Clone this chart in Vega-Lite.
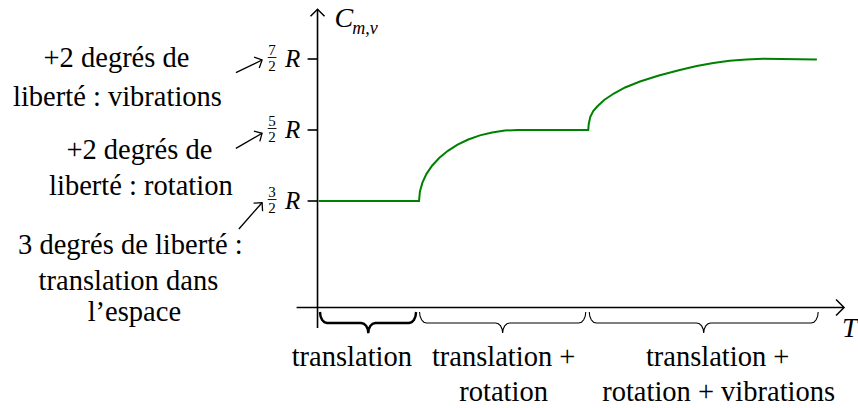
{
  "$schema": "https://vega.github.io/schema/vega-lite/v6.json",
  "width": 858,
  "height": 408,
  "padding": 0,
  "autosize": {"type": "fit", "contains": "padding"},
  "background": "white",
  "config": {"view": {"stroke": null}},
  "datasets": {
    "curve": [
      {"x": 0.01, "y": 1.5}, {"x": 1.02, "y": 1.5}, {"x": 1.0285, "y": 1.631}, {"x": 1.054, "y": 1.759},
      {"x": 1.095, "y": 1.883}, {"x": 1.153, "y": 2.0}, {"x": 1.225, "y": 2.108}, {"x": 1.31, "y": 2.207},
      {"x": 1.407, "y": 2.293}, {"x": 1.515, "y": 2.366}, {"x": 1.631, "y": 2.424}, {"x": 1.754, "y": 2.466},
      {"x": 1.881, "y": 2.492}, {"x": 2.01, "y": 2.5},
      {"x": 2.72, "y": 2.5}, {"x": 2.725, "y": 2.585}, {"x": 2.74, "y": 2.683}, {"x": 2.77, "y": 2.768},
      {"x": 2.81, "y": 2.831}, {"x": 2.88, "y": 2.923}, {"x": 2.977, "y": 3.014}, {"x": 3.09, "y": 3.099},
      {"x": 3.24, "y": 3.183}, {"x": 3.43, "y": 3.268}, {"x": 3.64, "y": 3.345}, {"x": 3.81, "y": 3.401},
      {"x": 3.977, "y": 3.444}, {"x": 4.14, "y": 3.475}, {"x": 4.31, "y": 3.493}, {"x": 4.477, "y": 3.503},
      {"x": 5.017, "y": 3.493}
    ],
    "axes": [
      {"x": 0, "y": -0.289, "x2": 0, "y2": 4.2},
      {"x": -0.21, "y": 0, "x2": 5.29, "y2": 0}
    ],
    "ticks": [
      {"v": 1.5, "n": "3", "d": "2"},
      {"v": 2.5, "n": "5", "d": "2"},
      {"v": 3.5, "n": "7", "d": "2"}
    ],
    "arrows": [
      {"id": 1, "x": -0.82, "y": 3.307, "x2": -0.557, "y2": 3.486},
      {"id": 2, "x": -0.82, "y": 2.242, "x2": -0.557, "y2": 2.454},
      {"id": 3, "x": -0.79, "y": 1.106, "x2": -0.557, "y2": 1.476}
    ],
    "labels": [
      {"t": "+2 degrés de", "x": -2.02, "y": 3.383},
      {"t": "liberté : vibrations", "x": -2.01, "y": 2.838},
      {"t": "+2 degrés de", "x": -1.79, "y": 2.087},
      {"t": "liberté : rotation", "x": -1.775, "y": 1.585},
      {"t": "3 degrés de liberté :", "x": -1.88, "y": 0.754},
      {"t": "translation dans", "x": -1.9, "y": 0.246},
      {"t": "l’espace", "x": -1.84, "y": -0.19},
      {"t": "translation", "x": 0.345, "y": -0.824},
      {"t": "translation +", "x": 1.87, "y": -0.824},
      {"t": "rotation", "x": 1.87, "y": -1.317},
      {"t": "translation +", "x": 4.02, "y": -0.824},
      {"t": "rotation + vibrations", "x": 4.03, "y": -1.317}
    ],
    "bigitalic": [
      {"t": "C", "x": 0.17, "y": 3.951},
      {"t": "T", "x": 5.27, "y": -0.415}
    ],
    "subitalic": [
      {"t": "m,v", "x": 0.35, "y": 3.852}
    ],
    "braces": [
      {"b": 1, "i": 0, "x": 0.025, "y": -0.0634}, {"b": 1, "i": 1, "x": 0.0303, "y": -0.1225}, {"b": 1, "i": 2, "x": 0.0455, "y": -0.1732},
      {"b": 1, "i": 3, "x": 0.0682, "y": -0.207}, {"b": 1, "i": 4, "x": 0.095, "y": -0.2183}, {"b": 1, "i": 5, "x": 0.44, "y": -0.2183},
      {"b": 1, "i": 6, "x": 0.4668, "y": -0.2296}, {"b": 1, "i": 7, "x": 0.4895, "y": -0.2592}, {"b": 1, "i": 8, "x": 0.5047, "y": -0.3056},
      {"b": 1, "i": 9, "x": 0.51, "y": -0.3592}, {"b": 1, "i": 10, "x": 0.5153, "y": -0.3056}, {"b": 1, "i": 11, "x": 0.5305, "y": -0.2592},
      {"b": 1, "i": 12, "x": 0.5532, "y": -0.2296}, {"b": 1, "i": 13, "x": 0.58, "y": -0.2183}, {"b": 1, "i": 14, "x": 0.92, "y": -0.2183},
      {"b": 1, "i": 15, "x": 0.9468, "y": -0.207}, {"b": 1, "i": 16, "x": 0.9695, "y": -0.1732}, {"b": 1, "i": 17, "x": 0.9847, "y": -0.1225},
      {"b": 1, "i": 18, "x": 0.99, "y": -0.0634},
      {"b": 2, "i": 0, "x": 1.025, "y": -0.0634}, {"b": 2, "i": 1, "x": 1.0303, "y": -0.1225}, {"b": 2, "i": 2, "x": 1.0455, "y": -0.1732},
      {"b": 2, "i": 3, "x": 1.0682, "y": -0.207}, {"b": 2, "i": 4, "x": 1.095, "y": -0.2183}, {"b": 2, "i": 5, "x": 1.79, "y": -0.2183},
      {"b": 2, "i": 6, "x": 1.8168, "y": -0.2296}, {"b": 2, "i": 7, "x": 1.8395, "y": -0.2592}, {"b": 2, "i": 8, "x": 1.8547, "y": -0.3056},
      {"b": 2, "i": 9, "x": 1.86, "y": -0.3592}, {"b": 2, "i": 10, "x": 1.8653, "y": -0.3056}, {"b": 2, "i": 11, "x": 1.8805, "y": -0.2592},
      {"b": 2, "i": 12, "x": 1.9032, "y": -0.2296}, {"b": 2, "i": 13, "x": 1.93, "y": -0.2183}, {"b": 2, "i": 14, "x": 2.625, "y": -0.2183},
      {"b": 2, "i": 15, "x": 2.6518, "y": -0.207}, {"b": 2, "i": 16, "x": 2.6745, "y": -0.1732}, {"b": 2, "i": 17, "x": 2.6897, "y": -0.1225},
      {"b": 2, "i": 18, "x": 2.695, "y": -0.0634},
      {"b": 3, "i": 0, "x": 2.73, "y": -0.0634}, {"b": 3, "i": 1, "x": 2.7353, "y": -0.1225}, {"b": 3, "i": 2, "x": 2.7505, "y": -0.1732},
      {"b": 3, "i": 3, "x": 2.7732, "y": -0.207}, {"b": 3, "i": 4, "x": 2.8, "y": -0.2183}, {"b": 3, "i": 5, "x": 3.81, "y": -0.2183},
      {"b": 3, "i": 6, "x": 3.8368, "y": -0.2296}, {"b": 3, "i": 7, "x": 3.8595, "y": -0.2592}, {"b": 3, "i": 8, "x": 3.8747, "y": -0.3056},
      {"b": 3, "i": 9, "x": 3.88, "y": -0.3592}, {"b": 3, "i": 10, "x": 3.8853, "y": -0.3056}, {"b": 3, "i": 11, "x": 3.9005, "y": -0.2592},
      {"b": 3, "i": 12, "x": 3.9232, "y": -0.2296}, {"b": 3, "i": 13, "x": 3.95, "y": -0.2183}, {"b": 3, "i": 14, "x": 4.96, "y": -0.2183},
      {"b": 3, "i": 15, "x": 4.9868, "y": -0.207}, {"b": 3, "i": 16, "x": 5.0095, "y": -0.1732}, {"b": 3, "i": 17, "x": 5.0247, "y": -0.1225},
      {"b": 3, "i": 18, "x": 5.03, "y": -0.0634}
    ]
  },
  "layer": [
    {
      "data": {"name": "axes"},
      "mark": {"type": "rule", "color": "black", "strokeWidth": 1.6},
      "encoding": {
        "x": {"field": "x", "type": "quantitative", "scale": {"domain": [-3.19, 5.39], "nice": false, "zero": false}, "axis": null},
        "y": {"field": "y", "type": "quantitative", "scale": {"domain": [-1.4155, 4.331], "nice": false, "zero": false}, "axis": null},
        "x2": {"field": "x2"},
        "y2": {"field": "y2"}
      }
    },
    {
      "data": {"name": "ticks"},
      "mark": {"type": "rule", "color": "black", "strokeWidth": 1.6},
      "encoding": {
        "x": {"datum": -0.1, "type": "quantitative", "scale": {"domain": [-3.19, 5.39], "nice": false, "zero": false}, "axis": null},
        "x2": {"datum": 0},
        "y": {"field": "v", "type": "quantitative", "scale": {"domain": [-1.4155, 4.331], "nice": false, "zero": false}, "axis": null}
      }
    },
    {
      "data": {"values": [{"x": 0, "y": 4.2}]},
      "mark": {"type": "point", "shape": "M-1,-1L0,0L-1,1", "filled": false, "stroke": "black", "strokeWidth": 1.5, "size": 196, "angle": -90, "opacity": 1},
      "encoding": {
        "x": {"field": "x", "type": "quantitative", "scale": {"domain": [-3.19, 5.39], "nice": false, "zero": false}, "axis": null},
        "y": {"field": "y", "type": "quantitative", "scale": {"domain": [-1.4155, 4.331], "nice": false, "zero": false}, "axis": null}
      }
    },
    {
      "data": {"values": [{"x": 5.29, "y": 0}]},
      "mark": {"type": "point", "shape": "M-1,-1L0,0L-1,1", "filled": false, "stroke": "black", "strokeWidth": 1.5, "size": 256, "opacity": 1},
      "encoding": {
        "x": {"field": "x", "type": "quantitative", "scale": {"domain": [-3.19, 5.39], "nice": false, "zero": false}, "axis": null},
        "y": {"field": "y", "type": "quantitative", "scale": {"domain": [-1.4155, 4.331], "nice": false, "zero": false}, "axis": null}
      }
    },
    {
      "data": {"name": "arrows"},
      "mark": {"type": "rule", "color": "black", "strokeWidth": 1.3},
      "encoding": {
        "x": {"field": "x", "type": "quantitative", "scale": {"domain": [-3.19, 5.39], "nice": false, "zero": false}, "axis": null},
        "y": {"field": "y", "type": "quantitative", "scale": {"domain": [-1.4155, 4.331], "nice": false, "zero": false}, "axis": null},
        "x2": {"field": "x2"},
        "y2": {"field": "y2"}
      }
    },
    {
      "data": {"name": "arrows"},
      "transform": [{"filter": "datum.id == 1"}],
      "mark": {"type": "point", "shape": "M-1,-1L0,0L-1,1", "filled": false, "stroke": "black", "strokeWidth": 1.3, "size": 144, "angle": -25.8, "opacity": 1},
      "encoding": {
        "x": {"field": "x2", "type": "quantitative", "scale": {"domain": [-3.19, 5.39], "nice": false, "zero": false}, "axis": null},
        "y": {"field": "y2", "type": "quantitative", "scale": {"domain": [-1.4155, 4.331], "nice": false, "zero": false}, "axis": null}
      }
    },
    {
      "data": {"name": "arrows"},
      "transform": [{"filter": "datum.id == 2"}],
      "mark": {"type": "point", "shape": "M-1,-1L0,0L-1,1", "filled": false, "stroke": "black", "strokeWidth": 1.3, "size": 144, "angle": -29.7, "opacity": 1},
      "encoding": {
        "x": {"field": "x2", "type": "quantitative", "scale": {"domain": [-3.19, 5.39], "nice": false, "zero": false}, "axis": null},
        "y": {"field": "y2", "type": "quantitative", "scale": {"domain": [-1.4155, 4.331], "nice": false, "zero": false}, "axis": null}
      }
    },
    {
      "data": {"name": "arrows"},
      "transform": [{"filter": "datum.id == 3"}],
      "mark": {"type": "point", "shape": "M-1,-1L0,0L-1,1", "filled": false, "stroke": "black", "strokeWidth": 1.3, "size": 144, "angle": -48.5, "opacity": 1},
      "encoding": {
        "x": {"field": "x2", "type": "quantitative", "scale": {"domain": [-3.19, 5.39], "nice": false, "zero": false}, "axis": null},
        "y": {"field": "y2", "type": "quantitative", "scale": {"domain": [-1.4155, 4.331], "nice": false, "zero": false}, "axis": null}
      }
    },
    {
      "data": {"name": "curve"},
      "mark": {"type": "line", "color": "#008000", "strokeWidth": 2, "interpolate": "linear"},
      "encoding": {
        "x": {"field": "x", "type": "quantitative", "scale": {"domain": [-3.19, 5.39], "nice": false, "zero": false}, "axis": null},
        "y": {"field": "y", "type": "quantitative", "scale": {"domain": [-1.4155, 4.331], "nice": false, "zero": false}, "axis": null}
      }
    },
    {
      "data": {"name": "braces"},
      "transform": [{"filter": "datum.b == 1"}],
      "mark": {"type": "line", "color": "black", "strokeWidth": 2.4, "interpolate": "linear"},
      "encoding": {
        "x": {"field": "x", "type": "quantitative", "scale": {"domain": [-3.19, 5.39], "nice": false, "zero": false}, "axis": null},
        "y": {"field": "y", "type": "quantitative", "scale": {"domain": [-1.4155, 4.331], "nice": false, "zero": false}, "axis": null},
        "order": {"field": "i", "type": "quantitative"}
      }
    },
    {
      "data": {"name": "braces"},
      "transform": [{"filter": "datum.b != 1"}],
      "mark": {"type": "line", "color": "black", "strokeWidth": 1.1, "interpolate": "linear"},
      "encoding": {
        "x": {"field": "x", "type": "quantitative", "scale": {"domain": [-3.19, 5.39], "nice": false, "zero": false}, "axis": null},
        "y": {"field": "y", "type": "quantitative", "scale": {"domain": [-1.4155, 4.331], "nice": false, "zero": false}, "axis": null},
        "detail": {"field": "b", "type": "nominal"},
        "order": {"field": "i", "type": "quantitative"}
      }
    },
    {
      "data": {"name": "labels"},
      "mark": {"type": "text", "font": "Liberation Serif", "fontSize": 28.5, "align": "center", "baseline": "alphabetic", "color": "black"},
      "encoding": {
        "x": {"field": "x", "type": "quantitative", "scale": {"domain": [-3.19, 5.39], "nice": false, "zero": false}, "axis": null},
        "y": {"field": "y", "type": "quantitative", "scale": {"domain": [-1.4155, 4.331], "nice": false, "zero": false}, "axis": null},
        "text": {"field": "t"}
      }
    },
    {
      "data": {"name": "bigitalic"},
      "mark": {"type": "text", "font": "Liberation Serif", "fontStyle": "italic", "fontSize": 28, "align": "left", "baseline": "alphabetic", "color": "black"},
      "encoding": {
        "x": {"field": "x", "type": "quantitative", "scale": {"domain": [-3.19, 5.39], "nice": false, "zero": false}, "axis": null},
        "y": {"field": "y", "type": "quantitative", "scale": {"domain": [-1.4155, 4.331], "nice": false, "zero": false}, "axis": null},
        "text": {"field": "t"}
      }
    },
    {
      "data": {"name": "subitalic"},
      "mark": {"type": "text", "font": "Liberation Serif", "fontStyle": "italic", "fontSize": 18, "align": "left", "baseline": "alphabetic", "color": "black"},
      "encoding": {
        "x": {"field": "x", "type": "quantitative", "scale": {"domain": [-3.19, 5.39], "nice": false, "zero": false}, "axis": null},
        "y": {"field": "y", "type": "quantitative", "scale": {"domain": [-1.4155, 4.331], "nice": false, "zero": false}, "axis": null},
        "text": {"field": "t"}
      }
    },
    {
      "data": {"name": "ticks"},
      "mark": {"type": "text", "font": "Liberation Serif", "fontStyle": "italic", "fontSize": 25, "align": "center", "baseline": "alphabetic", "dy": 8, "color": "black", "text": "R"},
      "encoding": {
        "x": {"datum": -0.25, "type": "quantitative", "scale": {"domain": [-3.19, 5.39], "nice": false, "zero": false}, "axis": null},
        "y": {"field": "v", "type": "quantitative", "scale": {"domain": [-1.4155, 4.331], "nice": false, "zero": false}, "axis": null}
      }
    },
    {
      "data": {"name": "ticks"},
      "mark": {"type": "text", "font": "Liberation Serif", "fontSize": 15, "align": "center", "baseline": "alphabetic", "dy": -4, "color": "black"},
      "encoding": {
        "x": {"datum": -0.457, "type": "quantitative", "scale": {"domain": [-3.19, 5.39], "nice": false, "zero": false}, "axis": null},
        "y": {"field": "v", "type": "quantitative", "scale": {"domain": [-1.4155, 4.331], "nice": false, "zero": false}, "axis": null},
        "text": {"field": "n"}
      }
    },
    {
      "data": {"name": "ticks"},
      "mark": {"type": "text", "font": "Liberation Serif", "fontSize": 15, "align": "center", "baseline": "alphabetic", "dy": 11.5, "color": "black"},
      "encoding": {
        "x": {"datum": -0.457, "type": "quantitative", "scale": {"domain": [-3.19, 5.39], "nice": false, "zero": false}, "axis": null},
        "y": {"field": "v", "type": "quantitative", "scale": {"domain": [-1.4155, 4.331], "nice": false, "zero": false}, "axis": null},
        "text": {"field": "d"}
      }
    },
    {
      "data": {"name": "ticks"},
      "mark": {"type": "rule", "color": "black", "strokeWidth": 0.9, "yOffset": -1.5},
      "encoding": {
        "x": {"datum": -0.5, "type": "quantitative", "scale": {"domain": [-3.19, 5.39], "nice": false, "zero": false}, "axis": null},
        "x2": {"datum": -0.412},
        "y": {"field": "v", "type": "quantitative", "scale": {"domain": [-1.4155, 4.331], "nice": false, "zero": false}, "axis": null}
      }
    }
  ]
}
